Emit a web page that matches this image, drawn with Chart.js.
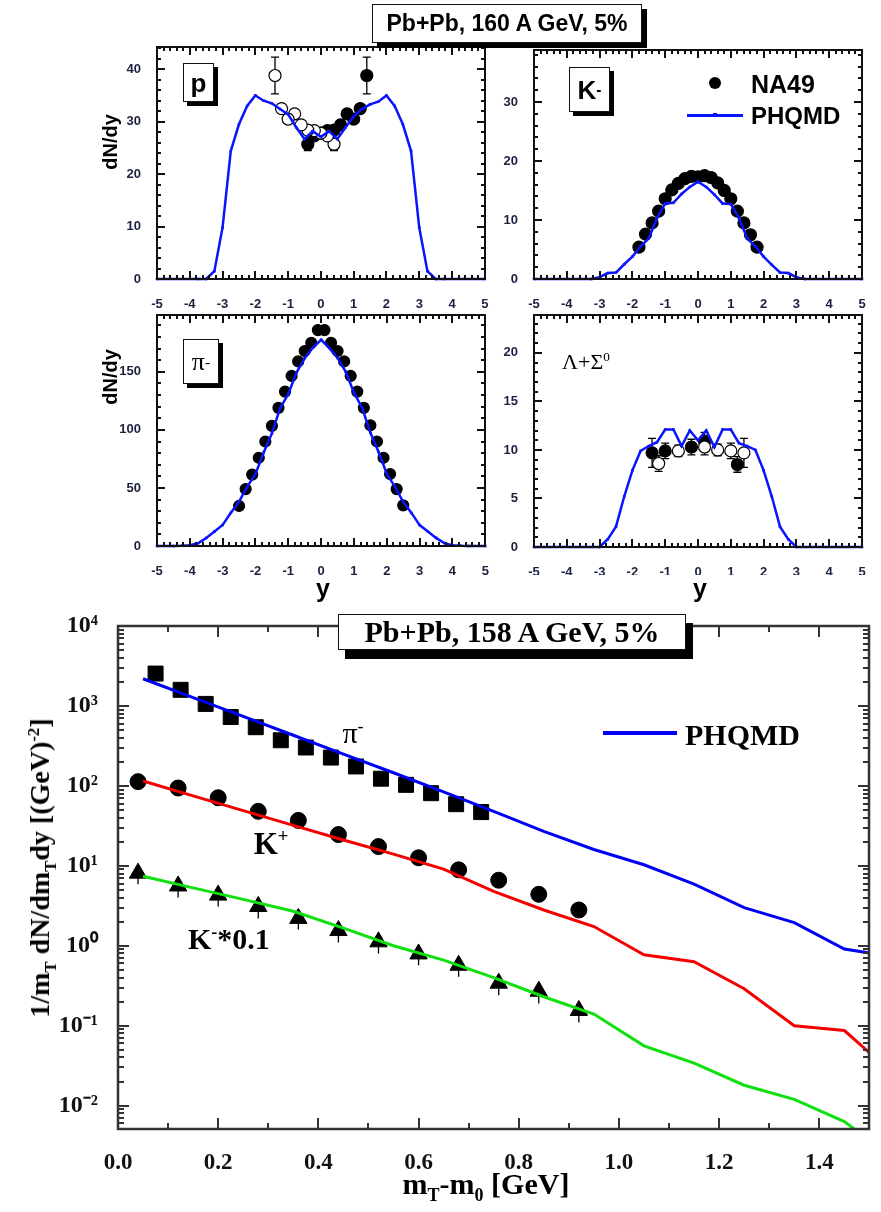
<!DOCTYPE html>
<html lang="en">
<head>
  <meta charset="UTF-8">
  <title>Pb+Pb: dN/dy and m_T spectra, NA49 vs PHQMD</title>
  <script src="https://cdn.jsdelivr.net/npm/chart.js"></script>
  <style>
    body { margin: 0; background: #fff; }
    #page { position: relative; width: 881px; height: 1212px; overflow: hidden; }
    canvas { position: absolute; }
    .t { position: absolute; white-space: nowrap; line-height: 1; color: #000; transform: translate(-50%, -50%); }
    .l { position: absolute; white-space: nowrap; line-height: 1; color: #000; transform: translate(0, -50%); }
    .sans { font-family: "Liberation Sans", Arial, sans-serif; font-weight: bold; }
    .serif { font-family: "Liberation Serif", "Times New Roman", serif; font-weight: bold; }
    .box { position: absolute; background: #fff; border: 1px solid #111; display: flex; align-items: center; justify-content: center; line-height: 1; }
    sub, sup { line-height: 0; font-size: 60%; }
  </style>
</head>
<body>
<div id="page">
  <canvas id="pChart" width="492" height="270" style="left:0;top:40px"></canvas>
  <canvas id="kChart" width="389" height="270" style="left:492px;top:40px"></canvas>
  <canvas id="piChart" width="492" height="270" style="left:0;top:305px"></canvas>
  <canvas id="lamChart" width="389" height="270" style="left:492px;top:305px"></canvas>
  <canvas id="mtChart" width="881" height="612" style="left:0;top:600px"></canvas>

  <!-- rapidity panels: header, axis titles, particle tags, legend -->
  <div class="box" style="left:372px;top:4px;width:268px;height:37px;font:bold 23px 'Liberation Sans Narrow','Arial Narrow','Liberation Sans',sans-serif;box-shadow:5px 5px 0 #000">Pb+Pb, 160 A GeV, 5%</div>
  <div class="t sans" style="left:110px;top:142px;font-size:20px;transform:translate(-50%,-50%) rotate(-90deg)">dN/dy</div>
  <div class="t sans" style="left:110px;top:377px;font-size:20px;transform:translate(-50%,-50%) rotate(-90deg)">dN/dy</div>
  <div class="t sans" style="left:323px;top:588px;font-size:25px">y</div>
  <div class="t sans" style="left:700px;top:588px;font-size:25px">y</div>

  <div class="box sans" style="left:183px;top:63px;width:29px;height:37px;font-size:26px;box-shadow:4px 4px 0 #000">p</div>
  <div class="box sans" style="left:569px;top:67px;width:39px;height:43px;font-size:26px;box-shadow:4px 4px 0 #000">K<sup>-</sup></div>
  <div class="box" style="left:183px;top:339px;width:34px;height:43px;font:26px 'Liberation Serif',serif;box-shadow:4px 4px 0 #000">&pi;<sup>-</sup></div>
  <div class="t" style="left:586px;top:362px;font:22px 'Liberation Serif',serif">&Lambda;+&Sigma;<sup>0</sup></div>

  <div style="position:absolute;left:709px;top:77px;width:12px;height:12px;border-radius:50%;background:#000"></div>
  <div class="l sans" style="left:751px;top:84px;font-size:25px">NA49</div>
  <div style="position:absolute;left:687px;top:113.5px;width:56px;height:3px;background:#0a14ff"></div>
  <div style="position:absolute;left:713px;top:113px;width:4px;height:4px;background:#0a14ff"></div>
  <div class="l sans" style="left:751px;top:116px;font-size:24px">PHQMD</div>

  <!-- transverse mass panel -->
  <div class="box serif" style="left:338px;top:614px;width:346px;height:34px;font-size:30px;box-shadow:7px 9px 0 #000">Pb+Pb, 158 A GeV, 5%</div>
  <div style="position:absolute;left:603px;top:731px;width:74px;height:4px;background:#0000f5"></div>
  <div class="l serif" style="left:685px;top:735px;font-size:30px">PHQMD</div>
  <div class="t serif" style="left:353px;top:733px;font-size:30px;font-weight:normal">&pi;<sup>-</sup></div>
  <div class="t serif" style="left:271px;top:843px;font-size:31px">K<sup>+</sup></div>
  <div class="l serif" style="left:188px;top:939px;font-size:30px">K<sup>-</sup>*0.1</div>
  <div class="t serif" style="left:40px;top:868px;font-size:28px;transform:translate(-50%,-50%) rotate(-90deg)">1/m<sub>T</sub> dN/dm<sub>T</sub>dy [(GeV)<sup>-2</sup>]</div>
  <div class="t serif" style="left:486px;top:1184px;font-size:30px">m<sub>T</sub>-m<sub>0</sub> [GeV]</div>
</div>

<script>
  // ---- dN/dy, Pb+Pb 160 A GeV ----
  const rapTicks = [-5, -4, -3, -2, -1, 0, 1, 2, 3, 4, 5];

  // protons
  const pModelY = [-5, -3.75, -3.5, -3.25, -3, -2.75, -2.5, -2.25, -2, -1.75, -1.5, -1.25, -1, -0.75, -0.5, -0.25, 0,
                   0.25, 0.5, 0.75, 1, 1.25, 1.5, 1.75, 2, 2.25, 2.5, 2.75, 3, 3.25, 3.5, 3.75, 5];
  const pModel  = [0, 0, 0, 1.5, 9.8, 24.4, 29.5, 33, 35, 34, 33.5, 32.4, 31.4, 28.9, 26.7, 28.2, 27.1,
                   28.2, 26.7, 28.9, 31, 32.4, 33.3, 33.8, 35, 33, 29.5, 24.4, 9.8, 1.5, 0, 0, 0];
  const pDataY  = [-0.4, -0.2, 0, 0.2, 0.4, 0.6, 0.8, 1.0, 1.2, 1.4];
  const pData   = [25.7, 27.3, 27.8, 28.3, 28.4, 29.4, 31.5, 30.5, 32.5, 38.8];
  const pErr    = [1.2, 0.6, 0.6, 0.6, 0.6, 0.6, 0.7, 0.7, 0.8, 3.5];
  const pTicks  = [0, 10, 20, 30, 40];

  // K-
  const kModelY = [-5, -3.25, -3, -2.75, -2.5, -2.25, -2, -1.75, -1.5, -1.25, -1, -0.75, -0.5, -0.25, 0,
                   0.25, 0.5, 0.75, 1, 1.25, 1.5, 1.75, 2, 2.25, 2.5, 2.75, 3, 3.25, 5];
  const kModel  = [0, 0, 0.3, 1.0, 1.1, 2.5, 3.8, 5.5, 6.9, 10.3, 12.8, 12.9, 14.4, 15.6, 16.5,
                   15.6, 14.3, 12.8, 12.7, 10.3, 6.9, 5.5, 3.8, 2.4, 1.1, 1.0, 0.3, 0, 0];
  const kDataY  = [-1.8, -1.6, -1.4, -1.2, -1.0, -0.8, -0.6, -0.4, -0.2, 0, 0.2, 0.4, 0.6, 0.8, 1.0, 1.2, 1.4, 1.6, 1.8];
  const kData   = [5.4, 7.6, 9.5, 11.5, 13.6, 15.1, 16.2, 17.0, 17.4, 17.3, 17.5, 17.2, 16.3, 15.0, 13.6, 11.5, 9.5, 7.5, 5.4];
  const kTicks  = [0, 10, 20, 30];

  // pi-
  const piModelY = [-5, -4.5, -4.25, -4, -3.75, -3.5, -3.25, -3, -2.75, -2.5, -2.25, -2, -1.75, -1.5, -1.25, -1, -0.75, -0.5, -0.25, 0,
                    0.25, 0.5, 0.75, 1, 1.25, 1.5, 1.75, 2, 2.25, 2.5, 2.75, 3, 3.25, 3.5, 3.75, 4, 4.25, 4.5, 5];
  const piModel  = [0, 0, 0.2, 0.6, 2.3, 6.9, 12.4, 18.1, 28.7, 38.2, 51.1, 62.1, 80.5, 97, 118.7, 131, 149.4, 161.8, 171, 177.6,
                    170.5, 162, 150, 132, 119, 97.5, 81, 62, 51, 38, 28.5, 18, 12.5, 7, 2.5, 0.6, 0.2, 0, 0];
  const piDataY  = [-2.5, -2.3, -2.1, -1.9, -1.7, -1.5, -1.3, -1.1, -0.9, -0.7, -0.5, -0.3, -0.1,
                    0.1, 0.3, 0.5, 0.7, 0.9, 1.1, 1.3, 1.5, 1.7, 1.9, 2.1, 2.3, 2.5];
  const piData   = [34.5, 49, 61.5, 76, 90, 103.5, 119, 133, 146.5, 159, 168, 175, 186,
                    186, 175, 168, 159, 146.5, 133, 119, 104, 90, 76, 62, 49, 35];
  const piTicks  = [0, 50, 100, 150];

  // Lambda + Sigma0
  const lamModelY = [-5, -3, -2.75, -2.5, -2.25, -2, -1.75, -1.5, -1.25, -1, -0.75, -0.5, -0.25, 0,
                     0.25, 0.5, 0.75, 1, 1.25, 1.5, 1.75, 2, 2.25, 2.5, 2.75, 3, 5];
  const lamModel  = [0, 0, 0.8, 2.1, 5.2, 7.9, 9.9, 10.4, 10.8, 12.1, 12.1, 10.4, 12.0, 11.0,
                     12.0, 10.3, 12.1, 12.1, 10.7, 10.4, 10.0, 7.9, 5.2, 2.1, 0.8, 0, 0];
  const lamDataY  = [-1.4, -1.0, -0.2, 0.2, 1.2];
  const lamData   = [9.7, 9.9, 10.3, 10.9, 8.5];
  const lamErr    = [1.5, 0.8, 0.8, 0.9, 0.8];
  const lamReflY  = [-1.2, -0.6, 0.2, 0.6, 1.0, 1.4];
  const lamRefl   = [8.6, 9.9, 10.3, 10.0, 9.9, 9.7];
  const lamReflErr = [0.8, 0.6, 0.8, 0.6, 0.8, 1.5];
  const lamTicks  = [0, 5, 10, 15, 20];

  // ---- m_T spectra, Pb+Pb 158 A GeV ----
  const mtBins = [0.05, 0.15, 0.25, 0.35, 0.45, 0.55, 0.65, 0.75, 0.85, 0.95, 1.05, 1.15, 1.25, 1.35, 1.45, 1.5];
  const piMt   = [2190, 1270, 740, 430, 250, 146, 84, 48, 27, 16, 10.3, 5.9, 3.0, 1.95, 0.91, 0.81];
  const kpMt   = [115, 75, 49, 32, 21, 14, 9.1, 4.8, 2.8, 1.74, 0.77, 0.63, 0.29, 0.10, 0.087, 0.046];
  const kmMt   = [7.4, 5.3, 3.8, 2.7, 1.66, 1.0, 0.66, 0.40, 0.23, 0.14, 0.056, 0.034, 0.018, 0.012, 0.0063, 0.0037];

  const piMtX    = [0.075, 0.125, 0.175, 0.225, 0.275, 0.325, 0.375, 0.425, 0.475, 0.525, 0.575, 0.625, 0.675, 0.725];
  const piMtData = [2540, 1590, 1060, 727, 542, 372, 302, 226, 175, 123, 103, 81, 59, 47];
  const kMtX     = [0.04, 0.12, 0.2, 0.28, 0.36, 0.44, 0.52, 0.6, 0.68, 0.76, 0.84, 0.92];
  const kpMtData = [113, 94, 71, 48, 37, 24.6, 17.4, 12.6, 8.9, 6.6, 4.4, 2.8];
  const kmMtData = [8.1, 5.6, 4.3, 3.1, 2.2, 1.55, 1.12, 0.79, 0.57, 0.34, 0.27, 0.155];
  const kmMtErr  = [2.2, 1.6, 1.2, 0.9, 0.6, 0.45, 0.32, 0.22, 0.16, 0.1, 0.08, 0.045];

  const mtTicks  = [0, 0.2, 0.4, 0.6, 0.8, 1.0, 1.2, 1.4];
  const logTicks = [0.01, 0.1, 1, 10, 100, 1000, 10000];

  // ---- helpers ----
  const BLUE = '#0a14ff';
  const pts = (xs, ys) => xs.map((x, i) => ({ x, y: ys[i] }));
  const fixedTicks = list => s => { s.ticks = list.map(v => ({ value: v })); };
  const sup = n => String(n).split('').map(c => '⁻⁰¹²³⁴⁵⁶⁷⁸⁹'['-0123456789'.indexOf(c)]).join('');

  // closed frame with inward ticks on all four sides, snapped to whole pixels
  function makeFrame(o) {
    return {
      id: 'frameTicks',
      afterDatasetsDraw(chart) {
        const ctx = chart.ctx;
        const a = chart.chartArea;
        const xs = chart.scales.x, ys = chart.scales.y;
        const w = o.tickWidth;
        const isMajor = (v, step) => Math.abs(v / step - Math.round(v / step)) < 1e-6;
        const L = Math.round(a.left), R = Math.round(a.right);
        const T = Math.round(a.top), B = Math.round(a.bottom);
        ctx.save();
        ctx.fillStyle = o.color;
        const nx = Math.round((o.xMax - o.xMin) / o.xMinor);
        for (let i = 0; i <= nx; i++) {
          const v = o.xMin + i * o.xMinor;
          const len = isMajor(v, o.xMajor) ? o.major : o.minor;
          const p = Math.round(xs.getPixelForValue(v) - w / 2);
          ctx.fillRect(p, B - len, w, len);
          ctx.fillRect(p, T, w, len);
        }
        const yMarks = [];
        if (o.log) {
          for (let e = -3; e <= 4; e++) {
            for (let m = 1; m < 10; m++) {
              const v = m * Math.pow(10, e);
              if (v >= o.yMin && v <= o.yMax * 1.0001) yMarks.push([v, m === 1]);
            }
          }
        } else {
          const ny = Math.floor((o.yMax - o.yMin) / o.yMinor + 1e-6);
          for (let i = 0; i <= ny; i++) {
            const v = o.yMin + i * o.yMinor;
            yMarks.push([v, isMajor(v, o.yMajor)]);
          }
        }
        for (const [v, major] of yMarks) {
          const len = major ? o.major : o.minor;
          const p = Math.round(ys.getPixelForValue(v) - w / 2);
          ctx.fillRect(L, p, len, w);
          ctx.fillRect(R - len, p, len, w);
        }
        ctx.strokeStyle = o.color;
        ctx.lineWidth = o.width;
        ctx.strokeRect(L, T, R - L, B - T);
        ctx.restore();
      }
    };
  }

  // vertical error bars for datasets carrying an `errors` array
  const errorBars = {
    id: 'errorBars',
    beforeDatasetsDraw(chart) {
      const { ctx } = chart;
      const xs = chart.scales.x, ys = chart.scales.y;
      ctx.save();
      ctx.strokeStyle = '#000';
      ctx.lineWidth = 1.3;
      ctx.beginPath();
      chart.data.datasets.forEach(ds => {
        if (!ds.errors) return;
        ds.data.forEach((pt, j) => {
          const e = ds.errors[j];
          if (!e) return;
          const px = xs.getPixelForValue(pt.x);
          const top = ys.getPixelForValue(pt.y + e);
          const bot = ys.getPixelForValue(Math.max(pt.y - e, ys.min));
          ctx.moveTo(px, top); ctx.lineTo(px, bot);
          if (ds.cap) {
            ctx.moveTo(px - ds.cap, top); ctx.lineTo(px + ds.cap, top);
            ctx.moveTo(px - ds.cap, bot); ctx.lineTo(px + ds.cap, bot);
          }
        });
      });
      ctx.stroke();
      ctx.restore();
    }
  };

  const modelLine = (xs, ys) => ({
    data: pts(xs, ys), showLine: true, borderColor: BLUE, borderWidth: 2.5,
    pointStyle: 'rect', pointRadius: 1.8, pointBackgroundColor: BLUE, pointBorderWidth: 0,
    clip: 4, order: 0
  });
  const dots = (xs, ys, errs, r, fill) => ({
    data: pts(xs, ys), errors: errs, cap: 4, pointRadius: r,
    pointBackgroundColor: fill, pointBorderColor: '#000', pointBorderWidth: 1.2,
    order: fill === '#000' ? 2 : 1
  });

  const sansTick = { family: '"Liberation Sans", Arial, sans-serif', weight: 'bold', size: 13 };

  function rapidityPanel(id, g, yMax, yTicks, yMinor, yMajor, datasets) {
    return new Chart(document.getElementById(id), {
      type: 'scatter',
      data: { datasets },
      options: {
        responsive: false, animation: false, devicePixelRatio: 1, events: [],
        layout: { padding: { top: g.top, right: g.right, left: 0, bottom: 0 } },
        plugins: { legend: { display: false }, tooltip: { enabled: false } },
        scales: {
          x: {
            type: 'linear', min: -5, max: 5,
            grid: { display: false }, border: { display: false },
            afterBuildTicks: fixedTicks(rapTicks),
            ticks: { font: sansTick, color: '#1a2040', padding: 10, maxRotation: 0, autoSkip: false },
            afterFit: s => { s.height = g.xh; s.paddingLeft = 0; s.paddingRight = 0; }
          },
          y: {
            type: 'linear', min: 0, max: yMax,
            grid: { display: false }, border: { display: false },
            afterBuildTicks: fixedTicks(yTicks),
            ticks: { font: sansTick, color: '#1a2040', padding: 8, autoSkip: false },
            afterFit: s => { s.width = g.yw; s.paddingTop = 0; s.paddingBottom = 0; }
          }
        }
      },
      plugins: [errorBars, makeFrame({
        color: '#111', width: 2, tickWidth: 2, major: 8, minor: 4,
        xMin: -5, xMax: 5, xMinor: 0.2, xMajor: 1, yMin: 0, yMax, yMinor, yMajor
      })]
    });
  }

  rapidityPanel('pChart', { top: 7, right: 6, xh: 31, yw: 157 }, 44.2, pTicks, 2, 10, [
    modelLine(pModelY, pModel),
    dots(pDataY.map(v => -v), pData, pErr, 6, '#fff'),
    dots(pDataY, pData, pErr, 6, '#000')
  ]);

  rapidityPanel('kChart', { top: 10, right: 19, xh: 31, yw: 42 }, 38.8, kTicks, 2, 10, [
    modelLine(kModelY, kModel),
    dots(kDataY, kData, null, 6, '#000')
  ]);

  rapidityPanel('piChart', { top: 10, right: 6, xh: 29, yw: 157 }, 199, piTicks, 10, 50, [
    modelLine(piModelY, piModel),
    dots(piDataY, piData, null, 5.5, '#000')
  ]);

  rapidityPanel('lamChart', { top: 10, right: 19, xh: 28, yw: 42 }, 23.9, lamTicks, 1, 5, [
    modelLine(lamModelY, lamModel),
    dots(lamReflY, lamRefl, lamReflErr, 6, '#fff'),
    dots(lamDataY, lamData, lamErr, 6, '#000')
  ]);

  // ---- m_T spectra ----
  const serifTick = size => ({ family: '"Liberation Serif", "Times New Roman", serif', weight: 'bold', size });
  const mtLine = (ys, color) => ({
    data: pts(mtBins, ys), showLine: true, borderColor: color, borderWidth: 3,
    pointRadius: 0, order: 0
  });
  const mtMarks = (xs, ys, style, r, errs) => ({
    data: pts(xs, ys), errors: errs || null, pointStyle: style, pointRadius: r,
    pointBackgroundColor: '#000', pointBorderColor: '#000', pointBorderWidth: 1, order: 1
  });

  new Chart(document.getElementById('mtChart'), {
    type: 'scatter',
    data: {
      datasets: [
        mtLine(piMt, '#0000f5'),
        mtLine(kpMt, '#f50000'),
        mtLine(kmMt, '#10e010'),
        mtMarks(piMtX, piMtData, 'rect', 10.6),
        mtMarks(kMtX, kpMtData, 'circle', 8),
        mtMarks(kMtX, kmMtData, 'triangle', 10, kmMtErr)
      ]
    },
    options: {
      responsive: false, animation: false, devicePixelRatio: 1, events: [],
      layout: { padding: { top: 26, right: 2, left: 0, bottom: 0 } },
      plugins: { legend: { display: false }, tooltip: { enabled: false } },
      scales: {
        x: {
          type: 'linear', min: 0, max: 1.5,
          grid: { display: false }, border: { display: false },
          afterBuildTicks: fixedTicks(mtTicks),
          ticks: { font: serifTick(23), color: '#111', padding: 12, maxRotation: 0, autoSkip: false,
                   callback: v => v.toFixed(1) },
          afterFit: s => { s.height = 83; s.paddingLeft = 0; s.paddingRight = 0; }
        },
        y: {
          type: 'logarithmic', min: 0.0051, max: 10000,
          grid: { display: false }, border: { display: false },
          afterBuildTicks: fixedTicks(logTicks),
          ticks: { font: serifTick(24), color: '#111', padding: 12, autoSkip: false,
                   callback: v => '10' + sup(Math.round(Math.log10(v))) },
          afterFit: s => { s.width = 118; s.paddingTop = 0; s.paddingBottom = 0; }
        }
      }
    },
    plugins: [errorBars, makeFrame({
      color: '#333', width: 2.5, tickWidth: 2, major: 11, minor: 6,
      xMin: 0, xMax: 1.5, xMinor: 0.1, xMajor: 0.2, yMin: 0.0051, yMax: 10000, log: true
    })]
  });
</script>
</body>
</html>
